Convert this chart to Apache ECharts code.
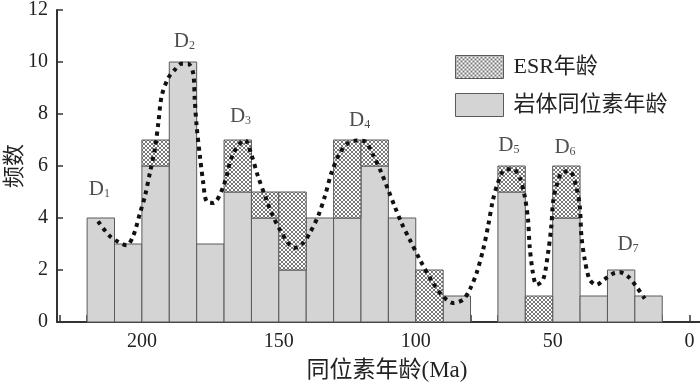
<!DOCTYPE html>
<html>
<head>
<meta charset="utf-8">
<script src="https://cdn.jsdelivr.net/npm/echarts@6/dist/echarts.min.js"></script>
<style>
  html, body { margin: 0; padding: 0; background: #fff; }
  #chart { width: 700px; height: 390px; }
</style>
</head>
<body>
<div id="chart"></div>
<script>
// histogram bins (centre of each 10 Ma bin)
var binAges = [215, 205, 195, 185, 175, 165, 155, 145, 135, 125, 115, 105, 95, 85, 75, 65, 55, 45, 35, 25, 15]
var isotopeCounts = [4, 3, 6, 10, 3, 5, 4, 2, 4, 4, 6, 4, 0, 1, 0, 5, 0, 4, 1, 2, 1]
var esrCounts = [0, 0, 1, 0, 0, 2, 1, 3, 0, 3, 1, 0, 2, 0, 0, 1, 1, 2, 0, 0, 0]
var binWidth = 10

// dotted density curve
var curveAges = [216, 211.7, 208.6, 205.6, 203.2, 200.7, 198.9, 197.1, 195.3, 194.0, 192.8, 190.4, 188, 185.5, 183.1, 181.3, 180.7, 180.0, 178.8, 177.6, 176.4, 173.9, 170.3, 166.6, 162.4, 160, 157.6, 154.5, 152.1, 149.6, 146.6, 144.2, 141.1, 138.7, 135.7, 133.2, 130.8, 127.7, 124.7, 121.6, 118.6, 115.6, 112.5, 110.1, 107.7, 105.2, 102.2, 98.5, 93.7, 90.0, 86.4, 82.7, 80.3, 77.8, 75.4, 73.6, 71.8, 70, 67.5, 64.5, 62.0, 60.2, 59.0, 58.4, 57.2, 55.9, 53.5, 51.7, 50.5, 49.9, 48.7, 46.8, 43.8, 41.4, 40.1, 39.5, 38.3, 36.5, 34.1, 31.0, 28.0, 25.5, 22.5, 19.5, 16.4]
var curveFreqs = [3.87, 3.3, 3.08, 2.95, 3.3, 4.19, 4.83, 5.73, 6.63, 7.65, 8.68, 9.38, 9.7, 9.93, 9.93, 9.58, 8.55, 7.52, 6.37, 5.35, 4.64, 4.58, 5.2, 6.5, 7.0, 6.43, 5.6, 4.7, 4.06, 3.55, 3.04, 2.85, 3.04, 3.42, 4.06, 4.83, 5.73, 6.5, 6.88, 6.98, 6.95, 6.43, 5.73, 5.09, 4.45, 3.81, 3.17, 2.4, 1.5, 0.98, 0.73, 0.86, 1.24, 1.88, 2.78, 3.68, 4.7, 5.35, 5.86, 5.88, 5.54, 4.83, 3.93, 2.91, 1.88, 1.43, 1.63, 2.65, 3.68, 4.58, 5.2, 5.73, 5.8, 5.2, 4.45, 3.3, 2.4, 1.63, 1.43, 1.65, 1.86, 1.91, 1.75, 1.37, 0.9]

// peak labels D1..D7
var peakNames = ['1', '2', '3', '4', '5', '6', '7']
var peakAges = [215.5, 184.5, 164, 120.5, 66, 45.5, 22.5]
var peakLevels = [5.1, 10.8, 7.9, 7.75, 6.8, 6.7, 3.0]

var serif = '"Liberation Serif", "Times New Roman", "Noto Sans CJK SC", serif'

// crosshatch fill
function makeHatch () {
  var c = document.createElement('canvas')
  c.width = 4
  c.height = 4
  var ctx = c.getContext('2d')
  ctx.fillStyle = '#ffffff'
  ctx.fillRect(0, 0, 4, 4)
  ctx.strokeStyle = '#6a6a6a'
  ctx.lineWidth = 0.9
  ctx.beginPath()
  ctx.moveTo(0, 0); ctx.lineTo(4, 4)
  ctx.moveTo(4, 0); ctx.lineTo(0, 4)
  ctx.stroke()
  return { image: c, repeat: 'repeat' }
}
var hatch = makeHatch()
var greyFill = '#d4d4d4'

var isoData = binAges.map(function (a, i) { return [a, 0, isotopeCounts[i]] })
var esrData = binAges.map(function (a, i) { return [a, isotopeCounts[i], isotopeCounts[i] + esrCounts[i]] })
var curveData = curveAges.map(function (a, i) { return [a, curveFreqs[i]] })
var peakData = peakAges.map(function (a, i) { return { value: [a, peakLevels[i]], name: peakNames[i] } })

function binRenderer (fill) {
  return function (params, api) {
    var age = api.value(0)
    var lo = api.value(1)
    var hi = api.value(2)
    if (hi <= lo) return null
    var p1 = api.coord([age + binWidth / 2, hi])
    var p2 = api.coord([age - binWidth / 2, lo])
    return {
      type: 'rect',
      shape: { x: p1[0], y: p1[1], width: p2[0] - p1[0], height: p2[1] - p1[1] },
      style: { fill: fill, stroke: '#5a5a5a', lineWidth: 1 }
    }
  }
}

var myChart = echarts.init(document.getElementById('chart'))
myChart.setOption({
  backgroundColor: '#ffffff',
  animation: false,
  grid: { left: 57, top: 10, width: 660, height: 312, outerBoundsMode: 'none', containLabel: false },
  legend: {
    orient: 'vertical',
    left: 455,
    top: 55,
    padding: 0,
    itemWidth: 48,
    itemHeight: 23,
    itemGap: 14,
    icon: 'rect',
    textStyle: { fontSize: 22, fontFamily: serif, color: '#222', padding: [0, 0, 0, 5] },
    data: [
      { name: 'ESR年龄', itemStyle: { color: hatch, borderColor: '#5a5a5a', borderWidth: 1 } },
      { name: '岩体同位素年龄', itemStyle: { color: greyFill, borderColor: '#5a5a5a', borderWidth: 1 } }
    ]
  },
  xAxis: {
    type: 'value',
    inverse: true,
    min: -10,
    max: 231,
    interval: 10,
    name: '同位素年龄(Ma)',
    nameLocation: 'middle',
    nameGap: 37,
    nameMoveOverlap: false,
    nameTextStyle: { fontSize: 23, fontFamily: serif, color: '#222' },
    axisLine: { onZero: false, lineStyle: { color: '#333', width: 2 } },
    axisTick: { inside: true, length: 7, lineStyle: { color: '#333', width: 1.5 } },
    axisLabel: {
      margin: 10,
      fontSize: 20,
      fontFamily: serif,
      color: '#222',
      formatter: function (v) {
        return (v >= 0 && v <= 200 && v % 50 === 0) ? String(v) : ''
      }
    },
    splitLine: { show: false }
  },
  yAxis: {
    type: 'value',
    min: 0,
    max: 12,
    interval: 2,
    name: '频数',
    nameLocation: 'middle',
    nameRotate: 90,
    nameGap: 31,
    nameMoveOverlap: false,
    nameTextStyle: { fontSize: 22, fontFamily: serif, color: '#222' },
    axisLine: { show: true, onZero: false, lineStyle: { color: '#333', width: 2 } },
    axisTick: { inside: true, length: 6, lineStyle: { color: '#333', width: 1.5 } },
    axisLabel: { margin: 9, fontSize: 20, fontFamily: serif, color: '#222' },
    splitLine: { show: false }
  },
  series: [
    {
      name: '岩体同位素年龄',
      type: 'custom',
      renderItem: binRenderer(greyFill),
      itemStyle: { color: greyFill },
      encode: { x: 0, y: [1, 2] },
      data: isoData,
      z: 2
    },
    {
      name: 'ESR年龄',
      type: 'custom',
      renderItem: binRenderer(hatch),
      itemStyle: { color: hatch },
      encode: { x: 0, y: [1, 2] },
      data: esrData,
      z: 2
    },
    {
      name: 'curve',
      type: 'line',
      smooth: 0.3,
      showSymbol: false,
      symbol: 'none',
      lineStyle: { color: '#111', width: 4, type: [4, 4.5], cap: 'butt' },
      data: curveData,
      z: 5
    },
    {
      name: 'peaks',
      type: 'scatter',
      symbolSize: 1,
      itemStyle: { color: 'rgba(0,0,0,0)' },
      label: {
        show: true,
        position: 'inside',
        formatter: function (p) { return '{d|D}{n|' + p.name + '}' },
        rich: {
          d: { fontSize: 21, fontFamily: serif, color: '#222', verticalAlign: 'bottom' },
          n: { fontSize: 12, fontFamily: serif, color: '#222', verticalAlign: 'bottom' }
        }
      },
      data: peakData,
      z: 6
    }
  ]
})
</script>
</body>
</html>
